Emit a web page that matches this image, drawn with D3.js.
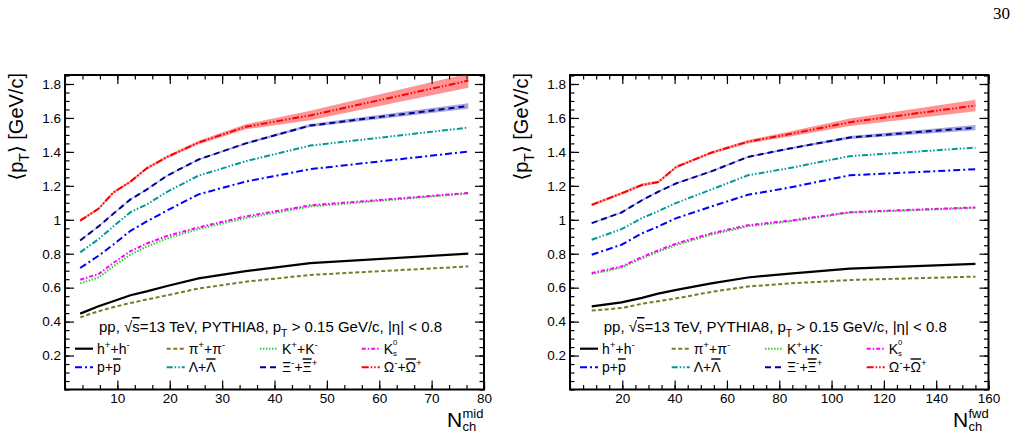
<!DOCTYPE html>
<html>
<head>
<meta charset="utf-8">
<script src="https://cdn.jsdelivr.net/npm/d3@7"></script>
<style>
body { margin:0; background:#fff; }
svg { display:block; font-family:"Liberation Sans", Arial, "DejaVu Sans", sans-serif; }
</style>
</head>
<body>
<svg id="chart" width="1016" height="438"></svg>
<script>
// ---- mid-rapidity multiplicity classes
var midN   = [2.9, 6.4, 9.2, 12.5, 15.6, 19.5, 25.5, 34.5, 46.8, 77];
var midH   = [0.447, 0.49, 0.52, 0.555, 0.578, 0.61, 0.655, 0.697, 0.745, 0.8];
var midPi  = [0.425, 0.461, 0.485, 0.51, 0.53, 0.555, 0.595, 0.635, 0.675, 0.725];
var midK   = [0.625, 0.66, 0.725, 0.795, 0.842, 0.89, 0.945, 1.01, 1.078, 1.155];
var midK0  = [0.647, 0.68, 0.745, 0.815, 0.86, 0.905, 0.955, 1.02, 1.085, 1.158];
var midP   = [0.716, 0.788, 0.853, 0.935, 0.99, 1.055, 1.15, 1.225, 1.298, 1.402];
var midLam = [0.808, 0.886, 0.96, 1.045, 1.09, 1.165, 1.26, 1.345, 1.437, 1.543];
var midXi  = [0.878, 0.961, 1.035, 1.12, 1.178, 1.26, 1.355, 1.45, 1.555, 1.67];
var midOm  = [0.995, 1.065, 1.16, 1.225, 1.303, 1.37, 1.455, 1.548, 1.615, 1.82];
var midXiErr = [0.004, 0.004, 0.004, 0.004, 0.004, 0.004, 0.005, 0.006, 0.009, 0.016];
var midOmErr = [0.008, 0.008, 0.008, 0.008, 0.008, 0.008, 0.01, 0.015, 0.028, 0.042];

// ---- forward multiplicity classes
var fwdN   = [8.3, 19.7, 27.5, 33.7, 40.7, 54, 68, 84, 107, 155];
var fwdH   = [0.49, 0.513, 0.54, 0.565, 0.587, 0.625, 0.66, 0.683, 0.712, 0.74];
var fwdPi  = [0.465, 0.48, 0.505, 0.52, 0.537, 0.575, 0.607, 0.625, 0.645, 0.665];
var fwdK   = [0.68, 0.718, 0.772, 0.812, 0.852, 0.912, 0.962, 0.99, 1.042, 1.07];
var fwdK0  = [0.686, 0.725, 0.78, 0.82, 0.86, 0.92, 0.968, 0.995, 1.045, 1.073];
var fwdP   = [0.794, 0.853, 0.92, 0.96, 1.01, 1.078, 1.147, 1.19, 1.262, 1.298];
var fwdLam = [0.882, 0.945, 1.01, 1.05, 1.1, 1.178, 1.262, 1.305, 1.375, 1.425];
var fwdXi  = [0.98, 1.043, 1.115, 1.165, 1.215, 1.285, 1.37, 1.42, 1.485, 1.543];
var fwdOm  = [1.088, 1.155, 1.205, 1.222, 1.312, 1.395, 1.46, 1.505, 1.575, 1.673];
var fwdXiErr = [0.004, 0.004, 0.004, 0.004, 0.004, 0.005, 0.005, 0.006, 0.009, 0.015];
var fwdOmErr = [0.008, 0.008, 0.008, 0.008, 0.008, 0.008, 0.01, 0.015, 0.022, 0.034];

var yTicks = [0.2, 0.4, 0.6, 0.8, 1, 1.2, 1.4, 1.6, 1.8];
var midTicks = [10, 20, 30, 40, 50, 60, 70, 80];
var fwdTicks = [20, 40, 60, 80, 100, 120, 140, 160];

// species: key, legend label parts, colour, dash
var species = [
	{ key:"H",   label:[["h"],["+","sup"],["+h"],["-","sup"]], color:"#000000", dash:null, w:2.2 },
	{ key:"Pi",  label:[["\u03c0"],["+","sup"],["+\u03c0"],["-","sup"]], color:"#7a7a26", dash:"4,2.5", w:2 },
	{ key:"K",   label:[["K"],["+","sup"],["+K"],["-","sup"]], color:"#33cc33", dash:"1.5,1.5", w:2 },
	{ key:"K0",  label:[["K"],["0","hi"],["s","lo",-4.5]], color:"#ff00ff", dash:"4,2,1.5,2", w:2 },
	{ key:"P",   label:[["p+"],["p","bar"]], color:"#0000ff", dash:"7,3,2,3", w:2 },
	{ key:"Lam", label:[["\u039b+"],["\u039b","bar"]], color:"#009999", dash:"6,2,1.5,2,1.5,2", w:2 },
	{ key:"Xi",  label:[["\u039e"],["-","sup"],["+"],["\u039e","bar"],["+","sup"]], color:"#000099", dash:"6,4", w:2 },
	{ key:"Om",  label:[["\u03a9"],["-","sup"],["+"],["\u03a9","bar"],["+","sup"]], color:"#ff0000", dash:"7,2,1.5,2,1.5,2", w:2 }
];

var svg = d3.select("#chart");

function rich(sel, parts, fs) {
	var off = 0;
	parts.forEach(function(p) {
		var mode = p[1] || "";
		var target = 0, small = 0.7;
		if (mode == "sup") target = -0.42 * fs;
		if (mode == "sub") target = 0.32 * fs;
		if (mode == "hi") { target = -0.62 * fs; small = 0.56; }
		if (mode == "lo") { target = 0.15 * fs; small = 0.56; }
		var ts = sel.append("tspan").text(p[0]).attr("dy", target - off);
		off = target;
		if (target != 0) ts.attr("font-size", fs * small);
		if (mode == "bar") ts.style("text-decoration", "overline");
		if (p[2]) ts.attr("dx", p[2]);
	});
}

function drawPanel(cfg) {
	var x = d3.scaleLinear().domain(cfg.xDomain).range([cfg.x0, cfg.x1]);
	var y = d3.scaleLinear().domain([0, 1.853]).range([389.5, 75]);
	var g = svg.append("g");

	var clipId = "clip" + cfg.name;
	svg.append("defs").append("clipPath").attr("id", clipId)
		.append("rect").attr("x", cfg.x0).attr("y", 75)
		.attr("width", cfg.x1 - cfg.x0).attr("height", 389.5 - 75);

	// ticks (inside frame, all four sides)
	var yMinor = d3.range(0, 1.851, 0.05);
	var xMinor = d3.range(0, cfg.xDomain[1] + 0.01, cfg.minorStep);

	g.append("g").attr("transform", "translate(" + cfg.x0 + ",0)")
		.call(d3.axisLeft(y).tickValues(yTicks).tickSize(-9).tickPadding(4)
			.tickFormat(function(d){ return d3.format("~g")(d); }));
	g.append("g").attr("transform", "translate(" + cfg.x0 + ",0)")
		.call(d3.axisLeft(y).tickValues(yMinor).tickSize(-4.5).tickFormat(""));
	g.append("g").attr("transform", "translate(" + cfg.x1 + ",0)")
		.call(d3.axisRight(y).tickValues(yTicks).tickSize(-9).tickFormat(""));
	g.append("g").attr("transform", "translate(" + cfg.x1 + ",0)")
		.call(d3.axisRight(y).tickValues(yMinor).tickSize(-4.5).tickFormat(""));

	g.append("g").attr("transform", "translate(0,389.5)")
		.call(d3.axisBottom(x).tickValues(cfg.ticks).tickSize(-9).tickPadding(3.5));
	g.append("g").attr("transform", "translate(0,389.5)")
		.call(d3.axisBottom(x).tickValues(xMinor).tickSize(-4.5).tickFormat(""));
	g.append("g").attr("transform", "translate(0,75)")
		.call(d3.axisTop(x).tickValues(cfg.ticks).tickSize(-9).tickFormat(""));
	g.append("g").attr("transform", "translate(0,75)")
		.call(d3.axisTop(x).tickValues(xMinor).tickSize(-4.5).tickFormat(""));

	g.selectAll(".domain").remove();
	g.selectAll(".tick line").attr("stroke", "#000").attr("stroke-width", 1.2);
	g.selectAll(".tick text").attr("fill", "#000").attr("font-size", 13.5)
		.attr("font-family", "'Liberation Sans', Arial, sans-serif");

	// frame
	g.append("rect").attr("x", cfg.x0).attr("y", 75)
		.attr("width", cfg.x1 - cfg.x0).attr("height", 389.5 - 75)
		.attr("fill", "none").attr("stroke", "#000").attr("stroke-width", 2);

	// bands
	var plot = g.append("g").attr("clip-path", "url(#" + clipId + ")");
	var area = d3.area()
		.x(function(d){ return x(d.n); })
		.y0(function(d){ return y(d.v - d.e); })
		.y1(function(d){ return y(d.v + d.e); });
	[["Xi", "rgba(0,0,153,0.35)"], ["Om", "rgba(255,0,0,0.42)"]].forEach(function(b) {
		var vals = cfg.data[b[0]], errs = cfg.err[b[0]];
		var pts = cfg.n.map(function(n, i){ return { n:n, v:vals[i], e:errs[i] }; });
		plot.append("path").attr("d", area(pts)).attr("fill", b[1]).attr("stroke", "none");
	});

	// lines
	var line = d3.line()
		.x(function(d){ return x(d[0]); })
		.y(function(d){ return y(d[1]); });
	species.forEach(function(s) {
		var pts = cfg.n.map(function(n, i){ return [n, cfg.data[s.key][i]]; });
		plot.append("path").attr("d", line(pts))
			.attr("fill", "none")
			.attr("stroke", s.color)
			.attr("stroke-width", s.w)
			.attr("stroke-dasharray", s.dash);
	});

	// header text
	var hd = g.append("text")
		.attr("x", (cfg.x0 + cfg.x1) / 2 - 4).attr("y", 332)
		.attr("text-anchor", "middle").attr("font-size", 15);
	rich(hd, [["pp, \u221a"], ["s", "bar"], ["=13 TeV, PYTHIA8, p"], ["T", "sub"],
		[" > 0.15 GeV/c, |\u03b7| < 0.8"]], 15);

	// legend
	var colOff = [10, 101.7, 195, 296.7];
	var rowY = [348.7, 367.3];
	species.forEach(function(s, i) {
		var cx = cfg.x0 + colOff[i % 4], cy = rowY[Math.floor(i / 4)];
		g.append("line").attr("x1", cx).attr("x2", cx + 18).attr("y1", cy).attr("y2", cy)
			.attr("stroke", s.color).attr("stroke-width", s.w).attr("stroke-dasharray", s.dash);
		var t = g.append("text").attr("x", cx + 22).attr("y", cy + 5).attr("font-size", 14);
		rich(t, s.label, 14);
	});

	// y title
	var yt = g.append("text")
		.attr("transform", "translate(" + (cfg.x0 - 42) + ",73) rotate(-90)")
		.attr("text-anchor", "end").attr("font-size", 20);
	rich(yt, [["\u27e8p"], ["T", "sub"], ["\u27e9 [GeV/c]"]], 20);

	// x title
	var xt = g.append("text");
	xt.append("tspan").attr("x", cfg.titleX).attr("y", 427).attr("font-size", 21).text("N");
	xt.append("tspan").attr("x", cfg.titleX + 15.5).attr("y", 418).attr("font-size", 13).text(cfg.sup);
	xt.append("tspan").attr("x", cfg.titleX + 15.5).attr("y", 431).attr("font-size", 13).text("ch");
}

drawPanel({
	name:"mid", x0:65, x1:484, xDomain:[0, 80], ticks:midTicks, minorStep:10/3,
	n:midN,
	data:{ H:midH, Pi:midPi, K:midK, K0:midK0, P:midP, Lam:midLam, Xi:midXi, Om:midOm },
	err:{ Xi:midXiErr, Om:midOmErr },
	titleX:447, sup:"mid"
});
drawPanel({
	name:"fwd", x0:570, x1:988.5, xDomain:[0, 160], ticks:fwdTicks, minorStep:5,
	n:fwdN,
	data:{ H:fwdH, Pi:fwdPi, K:fwdK, K0:fwdK0, P:fwdP, Lam:fwdLam, Xi:fwdXi, Om:fwdOm },
	err:{ Xi:fwdXiErr, Om:fwdOmErr },
	titleX:953, sup:"fwd"
});

// page number
svg.append("text").attr("x", 1010).attr("y", 19).attr("text-anchor", "end")
	.attr("font-family", "'Liberation Serif', 'DejaVu Serif', serif").attr("font-size", 17)
	.text("30");
</script>
</body>
</html>
